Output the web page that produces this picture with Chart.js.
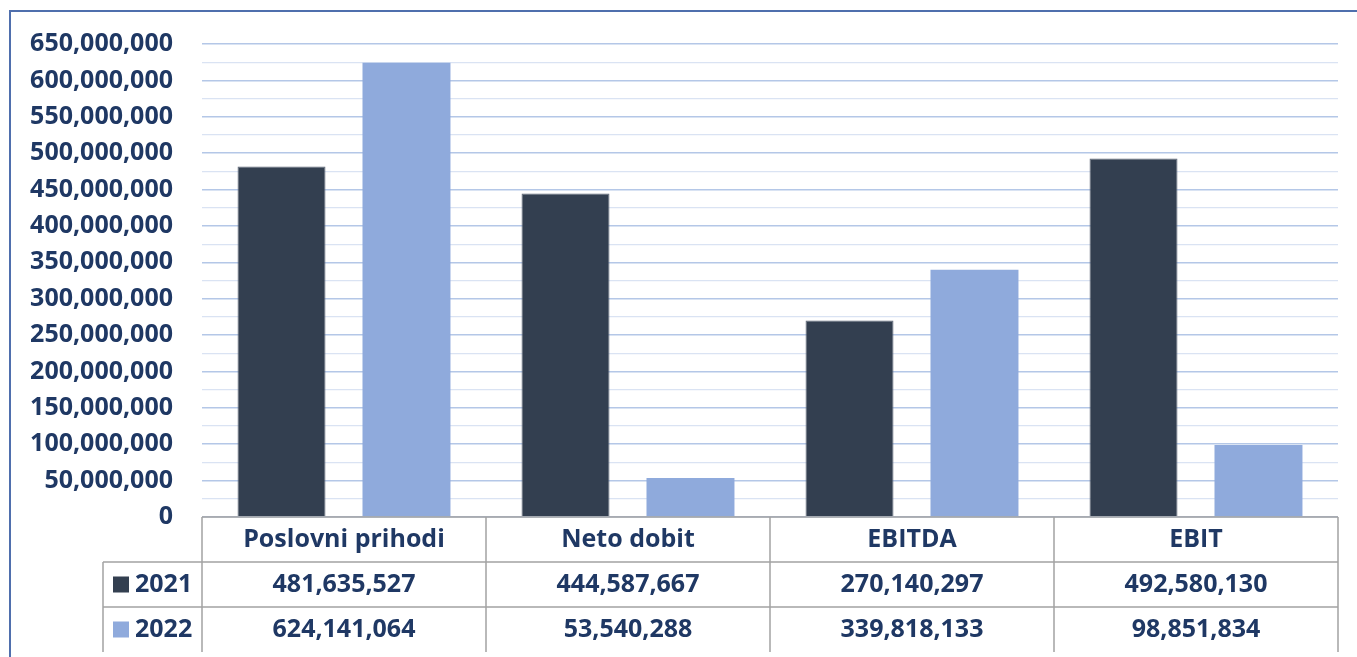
<!DOCTYPE html>
<html>
<head>
<meta charset="utf-8">
<script src="https://cdn.jsdelivr.net/npm/chart.js@4/dist/chart.umd.min.js"></script>
<style>
html,body{margin:0;padding:0;background:#fff;}
canvas{display:block;}
</style>
</head>
<body>
<canvas id="c" width="1357" height="657"></canvas>
<script>
const categories = ['Poslovni prihodi', 'Neto dobit', 'EBITDA', 'EBIT'];
const seriesNames = ['2021', '2022'];
const values2021 = [481635527, 444587667, 270140297, 492580130];
const values2022 = [624141064, 53540288, 339818133, 98851834];
const yMax = 650000000;
const yMajorStep = 50000000;
const yMinorStep = 25000000;

const DARK = '#333f50';
const LIGHT = '#8faadc';
const TEXT = '#1f3864';
const FONT = '"Open Sans", "Noto Sans", sans-serif';
const FSIZE = 25;

const fmt = v => v.toLocaleString('en-US');

const frame = {
  id: 'frame',
  beforeDraw(chart) {
    const ctx = chart.ctx;
    ctx.save();
    ctx.strokeStyle = '#4f6fad';
    ctx.lineWidth = 2;
    ctx.beginPath();
    ctx.moveTo(10, chart.height + 5);
    ctx.lineTo(10, 11);
    ctx.lineTo(chart.width + 5, 11);
    ctx.stroke();
    ctx.restore();
  }
};

const dataTable = {
  id: 'dataTable',
  afterDraw(chart) {
    const ctx = chart.ctx;
    const xs = chart.scales.x;
    const top = chart.chartArea.bottom;
    const left = chart.chartArea.left;
    const right = chart.chartArea.right;
    const n = categories.length;
    const cw = (right - left) / n;
    const rowH = 45;
    const legendLeft = 103;
    const rows = [values2021, values2022];
    const colors = [DARK, LIGHT];
    ctx.save();
    ctx.strokeStyle = '#a3a3a3';
    ctx.lineWidth = 1.5;
    ctx.beginPath();
    ctx.moveTo(left, top); ctx.lineTo(right, top);
    for (let r = 1; r <= rows.length; r++) {
      ctx.moveTo(legendLeft, top + r * rowH); ctx.lineTo(right, top + r * rowH);
    }
    for (let i = 0; i <= n; i++) {
      const x = left + i * cw;
      ctx.moveTo(x, top); ctx.lineTo(x, top + (rows.length + 1) * rowH);
    }
    ctx.moveTo(legendLeft, top + rowH); ctx.lineTo(legendLeft, top + (rows.length + 1) * rowH);
    ctx.stroke();

    ctx.fillStyle = TEXT;
    ctx.font = 'bold ' + FSIZE + 'px ' + FONT;
    ctx.textAlign = 'center';
    ctx.textBaseline = 'middle';
    for (let i = 0; i < n; i++) {
      const cx = xs.getPixelForTick(i);
      ctx.fillText(categories[i], cx, top + rowH / 2);
      for (let r = 0; r < rows.length; r++) {
        ctx.fillText(fmt(rows[r][i]), cx, top + (r + 1) * rowH + rowH / 2);
      }
    }
    for (let r = 0; r < rows.length; r++) {
      const cy = top + (r + 1) * rowH + rowH / 2;
      ctx.fillStyle = colors[r];
      ctx.fillRect(113, cy - 8, 16, 16);
      ctx.fillStyle = TEXT;
      ctx.textAlign = 'left';
      ctx.fillText(seriesNames[r], 135, cy);
    }
    ctx.restore();
  }
};

new Chart(document.getElementById('c'), {
  type: 'bar',
  data: {
    labels: categories,
    datasets: [
      { label: seriesNames[0], data: values2021, backgroundColor: DARK, borderColor: '#5b6676', borderWidth: 1 },
      { label: seriesNames[1], data: values2022, backgroundColor: LIGHT, borderWidth: 0 }
    ]
  },
  options: {
    responsive: false,
    animation: false,
    devicePixelRatio: 1,
    layout: { padding: { top: 43, right: 19, bottom: 140, left: 0 } },
    plugins: { legend: { display: false }, tooltip: { enabled: false } },
    datasets: { bar: { categoryPercentage: 0.88, barPercentage: 0.704 } },
    scales: {
      x: { display: false },
      y: {
        min: 0, max: yMax,
        border: { display: false },
        afterFit(scale) { scale.width = 202; },
        ticks: {
          stepSize: yMinorStep,
          padding: 29,
          color: TEXT,
          font: { family: FONT, size: FSIZE, weight: 'bold' },
          autoSkip: false,
          callback: v => (v % yMajorStep === 0 ? fmt(v) : '')
        },
        grid: {
          drawTicks: false,
          color: c => (c.tick && c.tick.value % yMajorStep === 0 ? '#b4c7e7' : '#dae3f3'),
          lineWidth: c => (c.tick && c.tick.value % yMajorStep === 0 ? 1.5 : 1.2)
        }
      }
    }
  },
  plugins: [frame, dataTable]
});
</script>
</body>
</html>
